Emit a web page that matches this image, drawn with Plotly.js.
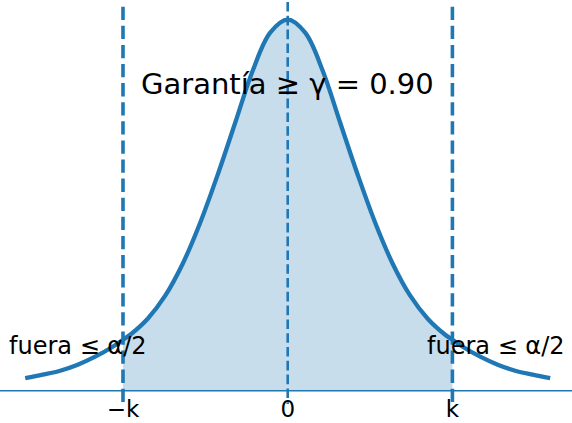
<!DOCTYPE html>
<html>
<head>
<meta charset="utf-8">
<script src="https://cdn.plot.ly/plotly-3.0.1.min.js"></script>
<style>html,body{margin:0;padding:0;background:#fff;}#chart{width:572px;height:423px;}</style>
</head>
<body>
<div id="chart"></div>
<script>
// Curve (x in units where k = 2.353, y = density-like height)
const curveX = [-3.75, -3.5, -3.25, -3.0, -2.75, -2.5, -2.353, -2.25, -2.0, -1.75, -1.5, -1.25, -1.0, -0.75, -0.5, -0.25,
                0, 0.25, 0.5, 0.75, 1.0, 1.25, 1.5, 1.75, 2.0, 2.25, 2.353, 2.5, 2.75, 3.0, 3.25, 3.5, 3.75];
const curveY = [0.0125, 0.016, 0.020, 0.026, 0.034, 0.044, 0.051, 0.056, 0.072, 0.095, 0.127, 0.168, 0.216, 0.268, 0.320, 0.358,
                0.371, 0.358, 0.320, 0.268, 0.216, 0.168, 0.127, 0.095, 0.072, 0.056, 0.051, 0.044, 0.034, 0.026, 0.020, 0.016, 0.0125];
const kValue = 2.353;
const tickVals = [-2.353, 0, 2.353];
const tickText = ['\u2212k', '0', 'k'];
const titleText = 'Garantía ≥ γ = 0.90';
const sideText = 'fuera ≤ α/2';
const sideX = [-2.99, 2.975];

const blue = '#1f77b4';
const font = 'DejaVu Sans, sans-serif';

const fillX = [], fillY = [];
curveX.forEach((x, i) => { if (Math.abs(x) <= kValue + 1e-9) { fillX.push(x); fillY.push(curveY[i]); } });

const traces = [
  {x: fillX, y: fillY, type: 'scatter', mode: 'lines', fill: 'tozeroy',
   fillcolor: 'rgba(31,119,180,0.25)', line: {width: 0, shape: 'spline', smoothing: 1}, hoverinfo: 'skip'},
  {x: curveX, y: curveY, type: 'scatter', mode: 'lines',
   line: {color: blue, width: 4.3, shape: 'spline', smoothing: 1}, hoverinfo: 'skip'}
];

const plotH = 393;
const py = px => (plotH - px) / plotH;

const shapes = [
  {type: 'line', xref: 'paper', yref: 'y', x0: 0, x1: 1, y0: 0, y1: 0, line: {color: blue, width: 1.6}},
  {type: 'line', xref: 'x', yref: 'paper', x0: -kValue, x1: -kValue, y0: py(6.7), y1: py(406),
   line: {color: blue, width: 3.6, dash: '13.3px,5.8px'}},
  {type: 'line', xref: 'x', yref: 'paper', x0: kValue, x1: kValue, y0: py(6.7), y1: py(406),
   line: {color: blue, width: 3.6, dash: '13.3px,5.8px'}},
  {type: 'line', xref: 'x', yref: 'paper', x0: 0, x1: 0, y0: py(2), y1: py(404),
   line: {color: blue, width: 2.6, dash: '9.6px,4.2px'}}
];

const annotations = [
  {x: 0, y: 0.3067, xref: 'x', yref: 'y', text: titleText, showarrow: false,
   font: {family: font, size: 29, color: '#000'}, xanchor: 'center', yanchor: 'middle'},
  {x: sideX[0], y: 0.0447, xref: 'x', yref: 'y', text: sideText, showarrow: false,
   font: {family: font, size: 24, color: '#000'}, xanchor: 'center', yanchor: 'middle'},
  {x: sideX[1], y: 0.0447, xref: 'x', yref: 'y', text: sideText, showarrow: false,
   font: {family: font, size: 24, color: '#000'}, xanchor: 'center', yanchor: 'middle'}
];

const layout = {
  width: 572, height: 423,
  margin: {l: 0, r: 0, t: 0, b: 423 - plotH, pad: 0},
  paper_bgcolor: '#fff', plot_bgcolor: '#fff',
  showlegend: false,
  xaxis: {range: [-287.7 / 70, (572 - 287.7) / 70], showgrid: false, zeroline: false, showline: false,
          tickmode: 'array', tickvals: tickVals, ticktext: tickText, ticks: '', ticklen: 0,
          tickfont: {family: font, size: 23, color: '#000'}, fixedrange: true},
  yaxis: {range: [0.3907 - plotH / 1000, 0.3907], showgrid: false, zeroline: false, showline: false,
          showticklabels: false, ticks: '', fixedrange: true},
  shapes: shapes,
  annotations: annotations,
  hovermode: false
};

Plotly.newPlot('chart', traces, layout, {displayModeBar: false, staticPlot: true});
</script>
</body>
</html>
